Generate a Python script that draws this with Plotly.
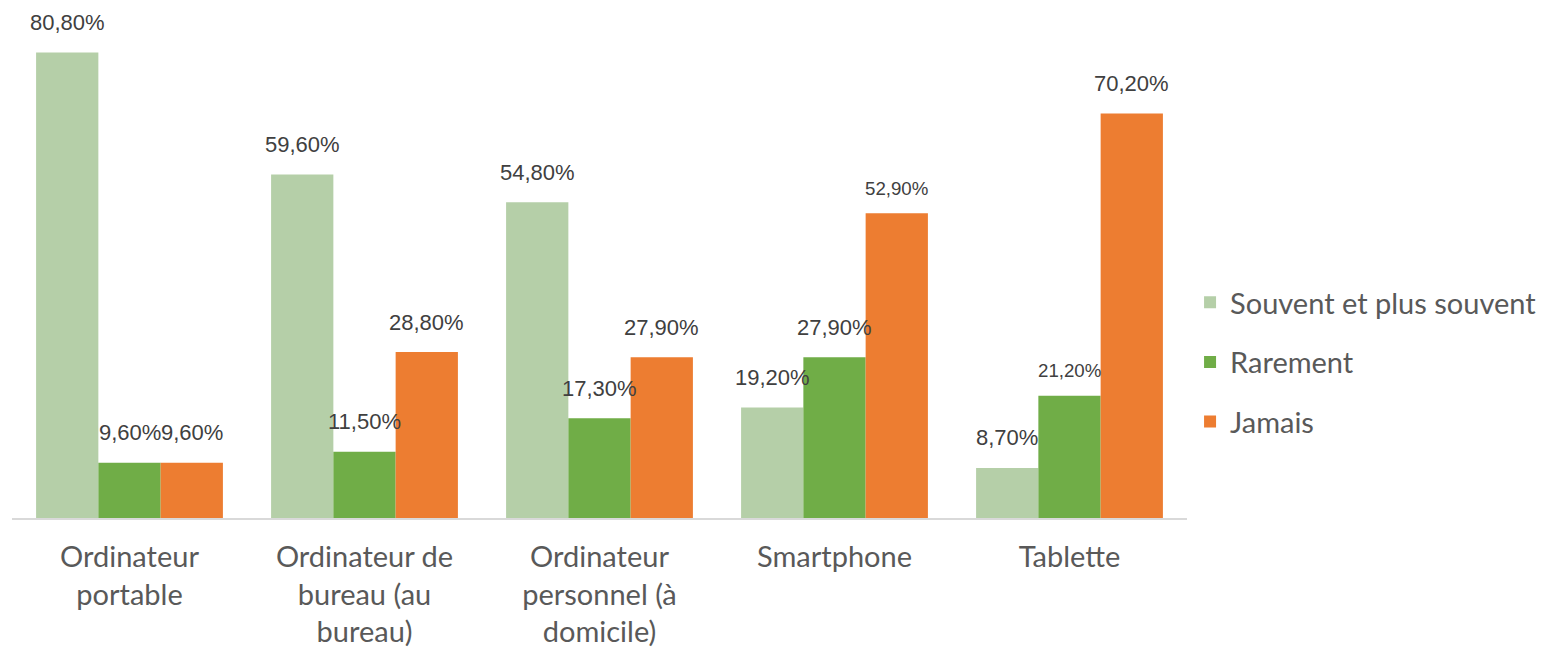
import plotly.graph_objects as go

categories = ["Ordinateur<br>portable", "Ordinateur de<br>bureau (au<br>bureau)",
              "Ordinateur<br>personnel (à<br>domicile)", "Smartphone", "Tablette"]
series_names = ["Souvent et plus souvent", "Rarement", "Jamais"]
souvent = [80.8, 59.6, 54.8, 19.2, 8.7]
rarement = [9.6, 11.5, 17.3, 27.9, 21.2]
jamais = [9.6, 28.8, 27.9, 52.9, 70.2]
colors = ["#b5cfa8", "#70ad47", "#ed7d31"]
label_sizes = [[22, 22, 22, 22, 22], [22, 22, 22, 22, 18.7], [22, 22, 22, 18.7, 22]]

values = [souvent, rarement, jamais]
bargap = 0.205
bw = (1 - bargap) / 3

fig = go.Figure()
for k, (name, vals, col) in enumerate(zip(series_names, values, colors)):
    fig.add_trace(go.Bar(
        x=list(range(len(categories))), y=vals, name=name, marker_color=col,
        marker_line_width=0, legendgroup=name,
    ))

annotations = []
for k, vals in enumerate(values):
    for i, v in enumerate(vals):
        sz = label_sizes[k][i]
        annotations.append(dict(
            x=i + (k - 1) * bw, y=v, xref="x", yref="y",
            text=f"{v:.2f}".replace(".", ",") + "%", showarrow=False,
            yanchor="middle", xanchor="center", yshift=30 if sz > 20 else 25,
            font=dict(family="Liberation Sans, Arial, sans-serif", size=sz, color="#404040"),
        ))

fig.update_layout(
    width=1537, height=643,
    margin=dict(l=4, r=358, t=3, b=133, autoexpand=False),
    plot_bgcolor="white", paper_bgcolor="white",
    barmode="group", bargap=bargap, bargroupgap=0,
    annotations=annotations,
    legend=dict(x=1.0026, xanchor="left", y=0.307, yanchor="middle",
                font=dict(family="Lato, sans-serif", size=29, color="#595959"),
                tracegroupgap=19, bgcolor="rgba(0,0,0,0)"),
    xaxis=dict(tickmode="array", tickvals=list(range(len(categories))), ticktext=categories,
               range=[-0.5, len(categories) - 0.5], automargin=False,
               showline=True, linecolor="#d9d9d9", linewidth=2, ticks="",
               showgrid=False, zeroline=False, ticklabelstandoff=12,
               tickfont=dict(family="Lato, sans-serif", size=29, color="#595959")),
    yaxis=dict(range=[0, 88], visible=False, showgrid=False, zeroline=False, automargin=False),
)

fig.write_html("out.html")
